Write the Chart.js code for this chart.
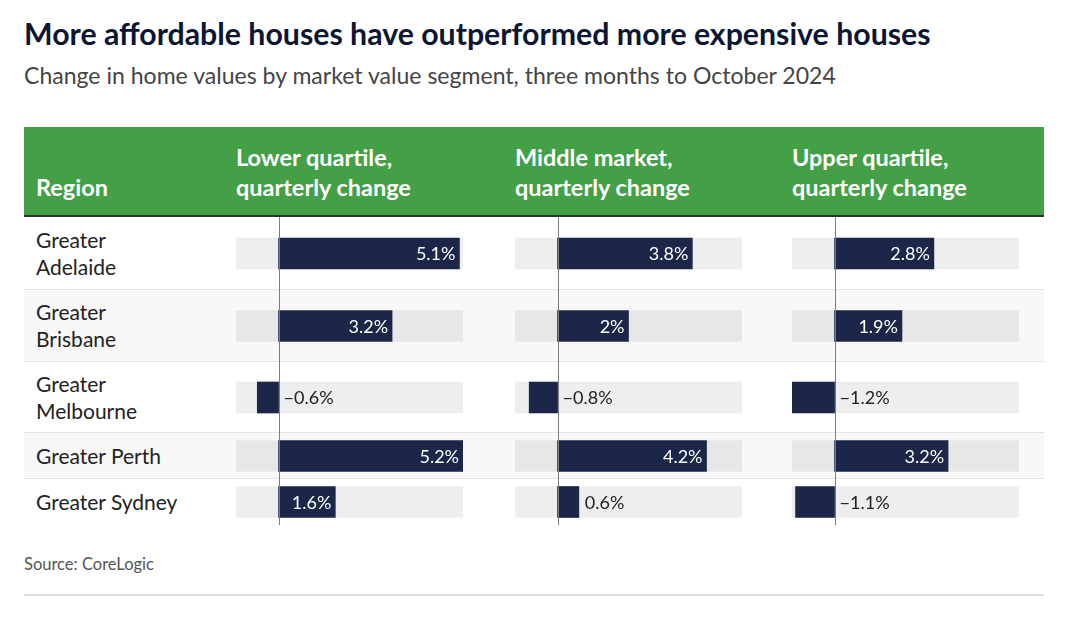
<!DOCTYPE html>
<html>
<head>
<meta charset="utf-8">
<script src="https://cdn.jsdelivr.net/npm/chart.js@4.4.1/dist/chart.umd.min.js"></script>
<style>
  html, body { margin: 0; padding: 0; background: #fff; }
  body { width: 1080px; height: 634px; position: relative; overflow: hidden; font-family: Lato, "Open Sans", sans-serif; }
  .abs { position: absolute; white-space: nowrap; }
  .fit { display: inline-block; }
  #title { left: 24px; top: 33px; transform: translateY(-50%); font-size: 28px; font-weight: 700; color: #0c1633; line-height: 1.2; }
  #subtitle { left: 24px; top: 76px; transform: translateY(-50%); font-size: 20px; color: #454545; line-height: 1.2; }
  #header { left: 24px; top: 127px; width: 1020px; height: 88px; background: #43a047; border-bottom: 2px solid #2c332c; }
  .hdr { color: #fff; font-weight: 700; font-size: 21px; line-height: 30px; }
  .rowbg { left: 24px; width: 1020px; }
  .sep { left: 24px; width: 1020px; height: 1px; background: #e4e4e4; }
  .region { left: 36px; display: flex; align-items: center; color: #222; font-size: 19px; line-height: 27px; white-space: pre; }
  #source { left: 24px; top: 565px; transform: translateY(-50%); font-size: 15px; color: #555; line-height: 1.2; }
  #rule { left: 24px; top: 594px; width: 1020px; height: 2px; background: #d8dee4; }
  canvas { display: block; }
</style>
</head>
<body>
<div id="title" class="abs fit"></div>
<div id="subtitle" class="abs fit"></div>
<div id="header" class="abs"></div>
<div id="source" class="abs fit"></div>
<div id="rule" class="abs"></div>
<script>
// ---------- DATA ----------
const title = "More affordable houses have outperformed more expensive houses";
const subtitle = "Change in home values by market value segment, three months to October 2024";
const source = "Source: CoreLogic";
const regionHeader = "Region";
const regions = ["Greater\nAdelaide", "Greater\nBrisbane", "Greater\nMelbourne", "Greater Perth", "Greater Sydney"];
const columnHeaders = ["Lower quartile,\nquarterly change", "Middle market,\nquarterly change", "Upper quartile,\nquarterly change"];
const lowerQuartile = [5.1, 3.2, -0.6, 5.2, 1.6];
const middleMarket = [3.8, 2, -0.8, 4.2, 0.6];
const upperQuartile = [2.8, 1.9, -1.2, 3.2, -1.1];
const axisMin = -1.2;
const axisMax = 5.2;

// ---------- LAYOUT (positions only) ----------
const layout = {
  rowTops: [217, 290, 362, 433, 479],
  rowHeights: [73, 72, 71, 46, 46],
  shadedRows: [1, 3],
  colLefts: [236, 515, 792],
  colWidth: 227,
  barThickness: 31
};

const series = [lowerQuartile, middleMarket, upperQuartile];

function el(tag, cls, text, style) {
  const d = document.createElement(tag);
  if (cls) d.className = cls;
  if (text != null) d.textContent = text;
  Object.assign(d.style, style || {});
  document.body.appendChild(d);
  return d;
}
function fit(node, target) {
  const w = node.getBoundingClientRect().width;
  const fs = parseFloat(getComputedStyle(node).fontSize);
  const nf = fs * target / w;
  node.style.fontSize = nf + 'px';
  return nf;
}

document.getElementById('title').textContent = title;
document.getElementById('subtitle').textContent = subtitle;
document.getElementById('source').textContent = source;
fit(document.getElementById('title'), 907);
fit(document.getElementById('subtitle'), 812);
fit(document.getElementById('source'), 130);

// header texts
const hReg = el('div', 'abs hdr fit', regionHeader, { left: '36px', top: '172px' });
const hdrs = columnHeaders.map((h, i) => el('div', 'abs hdr fit', null, { left: layout.colLefts[i] + 'px', top: '142px', whiteSpace: 'pre' }));
hdrs.forEach((d, i) => d.textContent = columnHeaders[i]);
(function () {
  const probe = el('span', 'abs hdr fit', 'quarterly change', { left: '-2000px', top: '0px' });
  const fs = fit(probe, 175);
  probe.remove();
  [hReg, ...hdrs].forEach(d => d.style.fontSize = fs + 'px');
})();

// row backgrounds and separators
layout.rowTops.forEach((t, r) => {
  if (layout.shadedRows.includes(r)) {
    el('div', 'abs rowbg', null, { top: t + 'px', height: layout.rowHeights[r] + 'px', background: '#f8f8f8' });
  }
  if (r > 0) el('div', 'abs sep', null, { top: (t - 1) + 'px' });
});

// region labels
let regionFont = 19;
(function () {
  const probe = el('span', 'abs fit', 'Greater Perth', { left: '-2000px', top: '0px', fontSize: '19px' });
  regionFont = fit(probe, 125);
  probe.remove();
})();
regions.forEach((name, r) => {
  el('div', 'abs region', name, {
    top: (layout.rowTops[r] - 1) + 'px', height: layout.rowHeights[r] + 'px', fontSize: regionFont + 'px'
  });
});

// ---------- CHART PLUGINS ----------
function fmt(v) { return (v < 0 ? '\u2212' + Math.abs(v) : String(v)) + '%'; }

const zeroLine = {
  id: 'zeroLine',
  afterDatasetsDraw(chart) {
    const ctx = chart.ctx;
    const x = Math.round(chart.scales.x.getPixelForValue(0)) + 0.5;
    ctx.save();
    ctx.strokeStyle = '#7d7d7d';
    ctx.lineWidth = 1;
    ctx.beginPath();
    ctx.moveTo(x, 0);
    ctx.lineTo(x, chart.height);
    ctx.stroke();
    ctx.restore();
  }
};
const valueLabel = {
  id: 'valueLabel',
  afterDraw(chart) {
    const ctx = chart.ctx;
    const meta = chart.getDatasetMeta(0);
    const v = chart.data.datasets[0].data[0];
    const bar = meta.data[0];
    const p = bar.getProps(['x', 'y', 'base'], true);
    const txt = fmt(v);
    ctx.save();
    ctx.font = '18px Lato, "Open Sans", sans-serif';
    ctx.textBaseline = 'middle';
    const w = ctx.measureText(txt).width;
    if (v >= 0 && (p.x - p.base) >= w + 10) {
      ctx.fillStyle = '#ffffff';
      ctx.textAlign = 'right';
      ctx.fillText(txt, p.x - 4, p.y + 1);
    } else {
      ctx.fillStyle = '#222222';
      ctx.textAlign = 'left';
      const start = v >= 0 ? p.x + 6 : p.base + 5;
      ctx.fillText(txt, start, p.y + 1);
    }
    ctx.restore();
  }
};

// ---------- CHARTS (one per cell) ----------
series.forEach((vals, c) => {
  vals.forEach((v, r) => {
    const canvas = document.createElement('canvas');
    canvas.width = layout.colWidth;
    canvas.height = layout.rowHeights[r];
    const wrap = el('div', 'abs', null, {
      left: layout.colLefts[c] + 'px', top: layout.rowTops[r] + 'px',
      width: layout.colWidth + 'px', height: layout.rowHeights[r] + 'px'
    });
    wrap.appendChild(canvas);
    new Chart(canvas, {
      type: 'bar',
      data: {
        labels: [regions[r]],
        datasets: [
          { data: [v], backgroundColor: '#1b2648', barThickness: layout.barThickness, grouped: false, order: 0 },
          { data: [[axisMin, axisMax]], backgroundColor: 'rgba(0,0,0,0.065)', barThickness: layout.barThickness, grouped: false, order: 1 }
        ]
      },
      options: {
        indexAxis: 'y',
        responsive: false,
        animation: false,
        events: [],
        layout: { padding: 0 },
        plugins: { legend: { display: false }, tooltip: { enabled: false } },
        scales: {
          x: { display: false, min: axisMin, max: axisMax },
          y: { display: false }
        }
      },
      plugins: [zeroLine, valueLabel]
    });
  });
});
</script>
</body>
</html>
